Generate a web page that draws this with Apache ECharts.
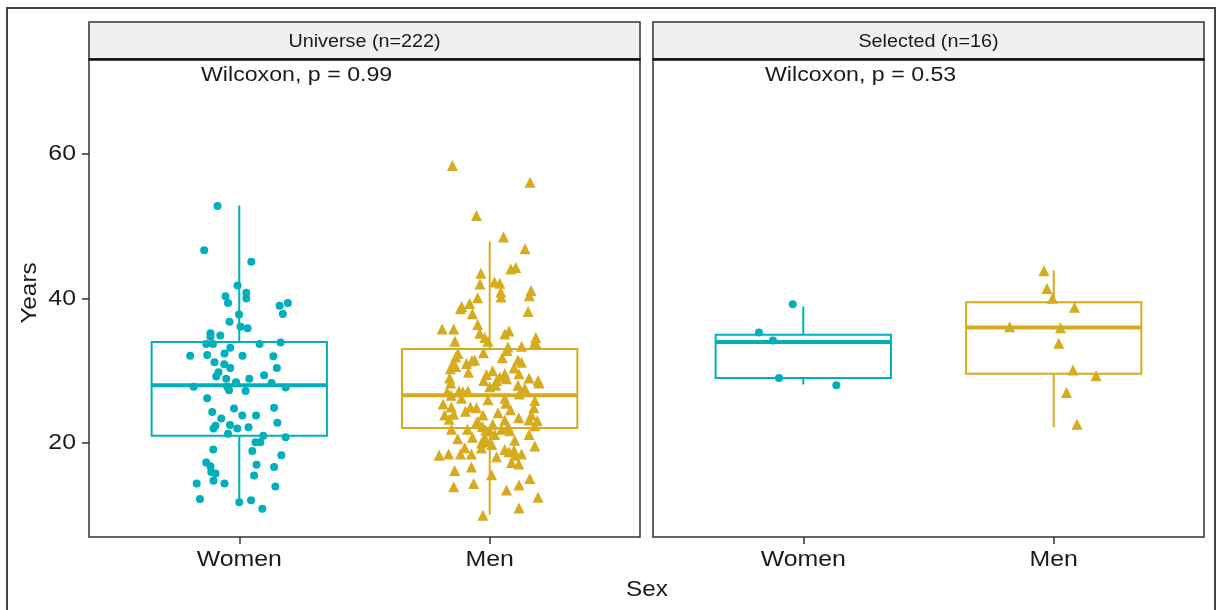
<!DOCTYPE html>
<html>
<head>
<meta charset="utf-8">
<script src="https://cdn.jsdelivr.net/npm/echarts@6/dist/echarts.min.js"></script>
<style>
  html, body { margin: 0; padding: 0; background: #fff; }
  #chart { width: 1219px; height: 610px; }
</style>
</head>
<body>
<div id="chart"></div>
<script>
// Facet labels, groups and tick labels
const panels = ['Universe (n=222)', 'Selected (n=16)'];
const pValues = ['Wilcoxon, p = 0.99', 'Wilcoxon, p = 0.53'];
const categories = ['Women', 'Men'];
const yTicks = [20, 40, 60];
const xTitle = 'Sex';
const yTitle = 'Years';

// Box statistics per group: [position, lower whisker, Q1, median, Q3, upper whisker]
const boxUniverse = [
  [1, 11.9, 21.0, 28.0, 34.0, 52.9],
  [2, 10.1, 22.1, 26.6, 33.0, 47.9]
];
const boxSelected = [
  [1, 28.1, 29.0, 34.0, 35.0, 38.9],
  [2, 22.2, 29.6, 36.0, 39.5, 43.9]
];

// Individual ages, [jittered position, years]
const universeWomen = [
  [0.913, 52.8], [0.860, 46.7], [1.048, 45.1], [0.993, 41.8], [0.945, 40.3], [0.955, 39.4],
  [1.028, 40.8], [1.028, 40.0], [1.161, 39.0], [1.194, 39.4], [1.174, 37.85], [0.999, 37.8],
  [0.961, 36.8], [1.005, 36.1], [1.033, 35.9], [0.885, 35.2], [0.924, 34.9], [0.885, 34.7],
  [0.868, 33.7], [0.895, 33.7], [0.964, 33.2], [1.081, 33.7], [1.165, 33.9], [0.804, 32.1],
  [0.872, 32.2], [0.941, 32.4], [1.013, 32.1], [1.136, 32.0], [0.901, 31.2], [0.940, 30.9],
  [0.964, 30.4], [1.150, 30.4], [0.917, 29.8], [0.908, 29.2], [0.948, 28.9], [0.987, 28.4],
  [1.040, 28.9], [1.099, 29.4], [1.129, 28.3], [0.818, 27.8], [0.959, 27.3], [1.025, 27.2],
  [1.185, 27.7], [0.952, 27.8], [0.872, 26.2], [0.979, 24.8], [1.139, 24.9], [0.892, 24.3],
  [1.012, 23.8], [1.067, 23.8], [0.928, 23.4], [1.152, 22.8], [0.905, 22.4], [0.897, 22.0],
  [0.963, 22.5], [0.992, 22.0], [1.037, 22.2], [0.955, 21.3], [1.096, 21.0], [1.185, 20.8],
  [1.065, 20.1], [1.084, 20.1], [0.896, 19.1], [1.052, 18.9], [1.168, 18.3], [0.868, 17.3],
  [0.885, 16.8], [1.069, 17.0], [1.139, 16.7], [0.888, 16.0], [0.905, 15.8], [1.059, 15.5],
  [0.897, 14.8], [0.941, 14.4], [0.830, 14.4], [1.144, 14.0], [0.843, 12.25], [1.000, 11.8],
  [1.047, 12.1], [1.092, 10.9]
];
const universeMen = [
  [1.851, 58.4], [2.161, 56.1], [1.947, 51.5], [2.055, 48.5], [2.141, 46.9], [2.084, 44.1],
  [2.104, 44.3], [1.965, 43.5], [1.961, 42.0], [2.019, 42.3], [2.040, 42.1], [2.044, 40.9],
  [2.045, 40.2], [2.165, 41.1], [2.158, 40.4], [1.952, 40.1], [1.920, 39.3], [1.883, 38.6],
  [1.888, 38.9], [1.931, 37.9], [2.153, 38.2], [1.952, 36.4], [1.810, 35.8], [1.856, 35.8],
  [1.960, 35.2], [1.980, 34.6], [1.993, 34.1], [2.060, 35.1], [2.077, 35.5], [1.861, 34.1],
  [2.184, 34.6], [2.180, 33.95], [2.186, 33.7], [2.073, 33.3], [2.069, 32.8], [2.127, 33.4],
  [1.873, 32.4], [1.864, 31.9], [1.853, 31.0], [1.843, 30.3], [1.907, 31.0], [1.940, 31.5],
  [1.929, 31.4], [2.113, 31.5], [2.127, 31.2], [2.011, 30.0], [1.987, 29.5], [1.976, 28.65],
  [2.027, 28.65], [2.040, 29.1], [2.060, 29.6], [2.067, 28.9], [2.024, 28.0], [2.117, 29.6],
  [2.113, 28.0], [2.157, 29.0], [2.193, 28.65], [2.197, 28.3], [1.840, 29.0], [1.844, 28.3],
  [1.830, 27.1], [1.877, 27.2], [1.893, 27.1], [1.913, 27.2], [1.887, 26.2], [1.993, 26.0],
  [2.060, 26.2], [2.064, 25.5], [2.180, 25.9], [1.814, 25.4], [1.847, 25.0], [1.923, 25.0],
  [1.947, 24.9], [2.083, 24.6], [2.176, 24.9], [1.820, 23.9], [1.856, 24.0], [1.838, 23.3],
  [1.973, 23.9], [2.116, 23.5], [2.166, 23.9], [2.157, 23.2], [2.190, 23.1], [1.947, 22.8],
  [2.060, 23.2], [2.073, 22.3], [1.971, 22.3], [1.847, 21.9], [1.911, 21.9], [1.984, 21.8],
  [2.000, 21.7], [2.020, 21.2], [2.047, 21.9], [2.080, 21.7], [1.931, 20.8], [1.980, 20.8],
  [2.157, 21.2], [1.967, 20.0], [1.987, 20.2], [2.100, 20.4], [2.180, 19.6], [1.967, 19.3],
  [1.900, 19.35], [1.883, 18.5], [1.798, 18.3], [1.836, 18.5], [1.927, 18.5], [2.027, 18.1],
  [2.060, 19.1], [2.077, 18.8], [2.097, 19.0], [2.100, 18.3], [2.127, 18.5], [2.087, 17.3],
  [2.116, 17.1], [1.927, 16.7], [1.860, 16.2], [2.007, 15.6], [1.936, 14.4], [1.856, 13.95],
  [2.067, 13.5], [2.117, 14.2], [2.160, 15.1], [2.193, 12.5], [2.117, 11.0], [1.973, 10.0],
  // overlapping marks inside the dense middle of the cloud
  [1.952, 23.0], [2.012, 22.6], [2.033, 24.2], [1.903, 24.4], [2.180, 22.4], [1.864, 30.6],
  [2.000, 27.8], [2.118, 26.8], [1.846, 26.6], [2.097, 30.4], [1.915, 29.8], [2.050, 31.8],
  [1.975, 32.5], [2.140, 27.6], [1.872, 20.6], [2.008, 19.8]
];
const selectedWomen = [
  [0.958, 39.2], [0.823, 35.3], [0.879, 34.2], [0.903, 29.0], [1.132, 28.0]
];
const selectedMen = [
  [1.961, 43.85], [1.973, 41.4], [1.995, 40.05], [2.083, 38.8], [1.824, 36.1], [2.027, 35.95],
  [2.020, 33.8], [2.077, 30.1], [2.169, 29.3], [2.051, 27.0], [2.093, 22.6]
];

const COLORS = ['#00AFBB', '#D6AB1E'];
const FONT = '"Liberation Sans", Arial, sans-serif';
const INK = '#1a1a1a';
const STRETCH = 1.13;   // labels are set slightly wider than the face's natural width

const grids = [
  { left: 89, top: 59, width: 551, height: 478 },
  { left: 653, top: 59, width: 551, height: 478 }
];
const PLOT_BOTTOM = 59 + 478;

function renderBox(params, api) {
  const x = api.value(0);
  const lo = api.value(1), q1 = api.value(2), med = api.value(3), q3 = api.value(4), hi = api.value(5);
  const hw = 0.35;
  const color = COLORS[params.dataIndex];
  const tl = api.coord([x - hw, q3]);
  const br = api.coord([x + hw, q1]);
  const c = api.coord([x, med]);
  const pHi = api.coord([x, hi]);
  const pLo = api.coord([x, lo]);
  const line = (x1, y1, x2, y2, w) => ({
    type: 'line',
    shape: { x1, y1, x2, y2 },
    style: { stroke: color, lineWidth: w }
  });
  return {
    type: 'group',
    children: [
      line(c[0], pHi[1], c[0], tl[1], 2),
      line(c[0], br[1], c[0], pLo[1], 2),
      {
        type: 'rect',
        shape: { x: tl[0], y: tl[1], width: br[0] - tl[0], height: br[1] - tl[1] },
        style: { fill: 'none', stroke: color, lineWidth: 2 }
      },
      line(tl[0], c[1], br[0], c[1], 4)
    ]
  };
}

const xAxes = grids.map((g, i) => ({
  type: 'value',
  gridIndex: i,
  min: 0.4,
  max: 2.6,
  axisLine: { show: false },
  splitLine: { show: false },
  axisTick: { show: true, customValues: [1, 2], length: 7, lineStyle: { color: '#333', width: 1.5 } },
  axisLabel: { show: false }
}));

const yAxes = grids.map((g, i) => ({
  type: 'value',
  gridIndex: i,
  min: 7,
  max: 73.15,
  axisLine: { show: false },
  splitLine: { show: false },
  axisTick: { show: i === 0, customValues: yTicks, length: 7, lineStyle: { color: '#333', width: 1.5 } },
  axisLabel: { show: false }
}));

function boxSeries(data, i) {
  return {
    type: 'custom', xAxisIndex: i, yAxisIndex: i, z: 2,
    renderItem: renderBox, data: data, silent: true
  };
}
function pointSeries(data, i, shape) {
  const isMen = shape === 'triangle';
  return {
    type: 'scatter', xAxisIndex: i, yAxisIndex: i, z: 3,
    symbol: shape, symbolSize: isMen ? 11 : 8,
    itemStyle: { color: COLORS[isMen ? 1 : 0], opacity: 1 },
    data: data, silent: true
  };
}

function label(text, x, y, size, align, extra) {
  return Object.assign({
    type: 'text', z: 12, x: x, y: y, scaleX: STRETCH,
    style: { text: text, fill: INK, font: size + 'px ' + FONT, align: align, verticalAlign: 'middle' }
  }, extra || {});
}

const graphics = [];
// outer frame
graphics.push({
  type: 'rect', z: 0,
  shape: { x: 7, y: 8, width: 1208, height: 640 },
  style: { fill: 'none', stroke: '#444', lineWidth: 2 }
});
grids.forEach((g, i) => {
  graphics.push({
    type: 'rect', z: 10,
    shape: { x: g.left, y: 22, width: g.width, height: 37 },
    style: { fill: '#F0F0F0', stroke: '#333', lineWidth: 1.5 }
  });
  graphics.push({
    type: 'line', z: 11,
    shape: { x1: g.left - 0.5, y1: 59.5, x2: g.left + g.width + 0.5, y2: 59.5 },
    style: { stroke: '#111', lineWidth: 2.5 }
  });
  graphics.push(label(panels[i], g.left + g.width / 2, 42, 17.5, 'center'));
  graphics.push(label(pValues[i], g.left + 112, 75, 20.5, 'left'));
});
graphics.push(label(xTitle, 647, 590, 21.5, 'center'));
graphics.push(label(yTitle, 30, 293, 21.5, 'center', { rotation: Math.PI / 2 }));

const chart = echarts.init(document.getElementById('chart'), null, { renderer: 'canvas' });
const baseOption = {
  animation: false,
  backgroundColor: '#fff',
  grid: grids.map(g => Object.assign({ show: true, borderColor: '#333', borderWidth: 1.5, backgroundColor: '#fff' }, g)),
  xAxis: xAxes,
  yAxis: yAxes,
  graphic: graphics,
  series: [
    boxSeries(boxUniverse, 0),
    boxSeries(boxSelected, 1),
    pointSeries(universeWomen, 0, 'circle'),
    pointSeries(universeMen, 0, 'triangle'),
    pointSeries(selectedWomen, 1, 'circle'),
    pointSeries(selectedMen, 1, 'triangle')
  ]
};
chart.setOption(baseOption);

// Tick labels placed at the positions the axes give for each value
const tickLabels = [];
yTicks.forEach(v => {
  const py = chart.convertToPixel({ yAxisIndex: 0 }, v);
  tickLabels.push(label(String(v), grids[0].left - 13, py, 22, 'right'));
});
grids.forEach((g, i) => {
  categories.forEach((name, k) => {
    const px = chart.convertToPixel({ xAxisIndex: i }, k + 1);
    tickLabels.push(label(name, px, PLOT_BOTTOM + 23, 22, 'center'));
  });
});
chart.setOption({ graphic: graphics.concat(tickLabels) });
</script>
</body>
</html>
